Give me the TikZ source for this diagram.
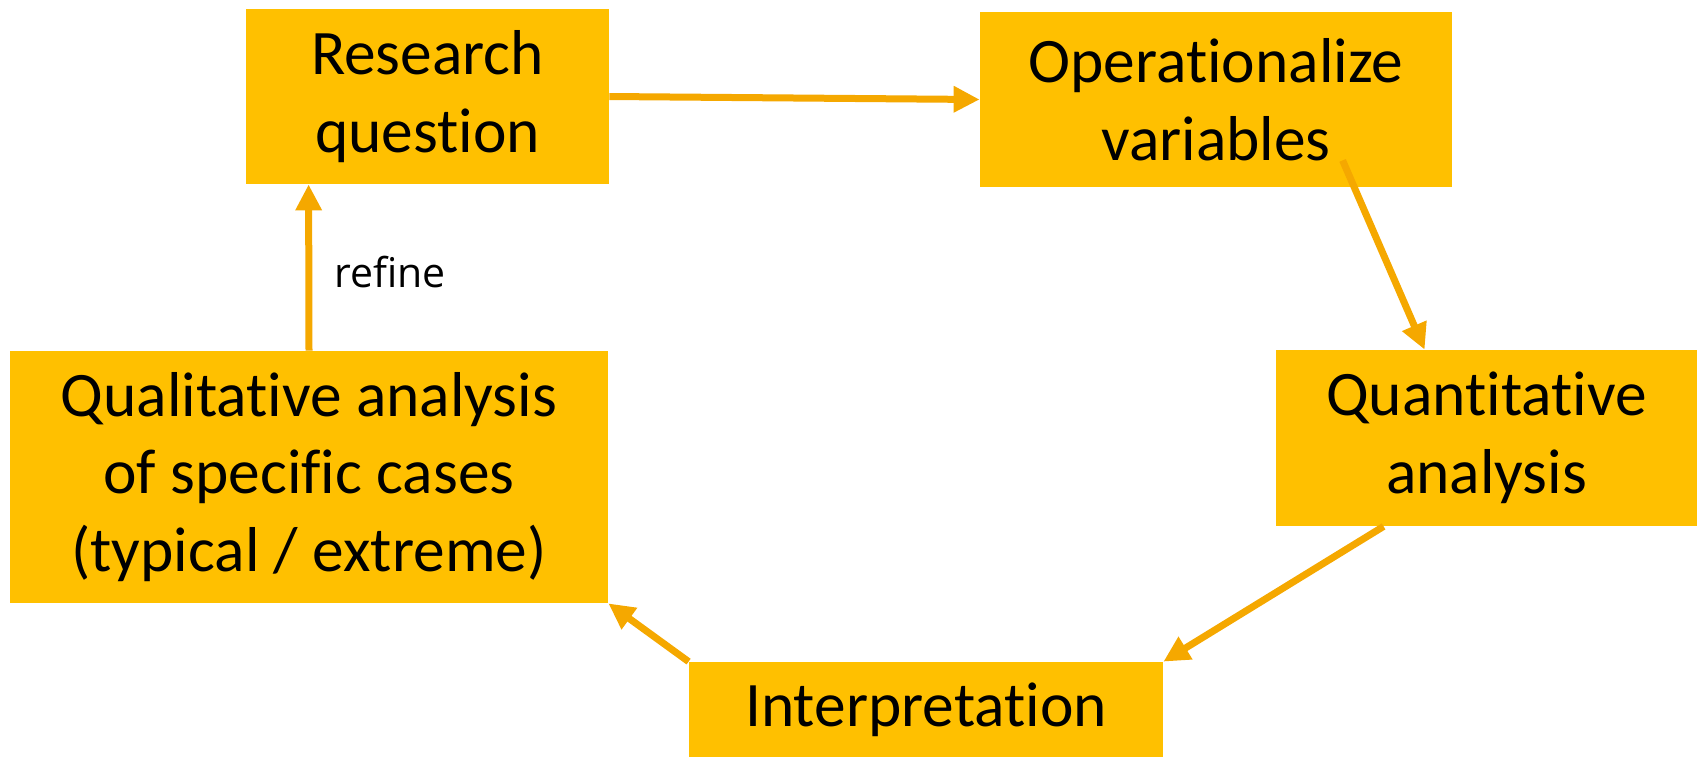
\documentclass[tikz,border=0pt]{standalone}
\usepackage{fontspec}
\setmainfont{Carlito}[Ligatures={NoCommon}]
\newfontfamily\labelfont{Open Sans}
\usetikzlibrary{arrows.meta,calc}
\definecolor{boxgold}{RGB}{255,192,0}
\definecolor{arrowgold}{RGB}{245,168,0}
\begin{document}
\begin{tikzpicture}[x=0.5pt,y=-0.5pt,
  box/.style={fill=boxgold, inner sep=0pt, align=center, font=\fontsize{31.7}{38.75}\selectfont},
  flow/.style={draw=arrowgold, line width=3.5pt, -{Triangle[length=13pt,width=12.5pt]}},
  lbl/.style={font=\labelfont\fontsize{20.5}{24}\selectfont, inner sep=0pt}]
\useasboundingbox (0,0) rectangle (1697,757);
\node[box, minimum width=181.5pt, minimum height=87.5pt] (rq) at (427.5,96.5) {Research\\question};
\node[box, minimum width=236pt, minimum height=87.5pt] (op) at (1216,99.5) {Operationalize\\variables};
\node[box, minimum width=210.5pt, minimum height=88pt] (quant) at (1486.5,438) {Quantitative\\analysis};
\node[box, minimum width=237pt, minimum height=47.5pt] (interp) at (926,709.5) {Interpretation};
\node[box, minimum width=299pt, minimum height=126pt] (qual) at (309,477) {Qualitative analysis\\of specific cases\\(typical / extreme)};
\draw[flow] (rq.east) -- (op.west);
\draw[flow] ($(op.south west)+(363,-27)$) -- ($(quant.north west)+(149,0)$);
\draw[flow] ($(quant.south west)+(108,0)$) -- (interp.north east);
\draw[flow] (interp.north west) -- (qual.south east);
\draw[flow] (qual.north) -- ($(rq.south west)+(63,0)$);
\node[lbl, anchor=base west] (refine) at (334,287) {refine};
\end{tikzpicture}
\end{document}
